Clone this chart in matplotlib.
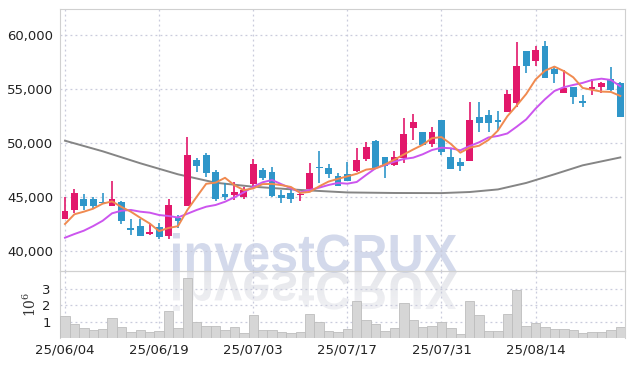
import numpy as np
import pandas as pd
import matplotlib
matplotlib.use('Agg')
import matplotlib.pyplot as plt
import matplotlib.transforms as mtransforms
from matplotlib.ticker import FuncFormatter
from matplotlib.textpath import TextPath
from matplotlib.patches import PathPatch
from matplotlib.font_manager import FontProperties

dates = ['25/06/04', '25/06/05', '25/06/09', '25/06/10', '25/06/11', '25/06/12', '25/06/13',
         '25/06/16', '25/06/17', '25/06/18', '25/06/19', '25/06/20', '25/06/23', '25/06/24',
         '25/06/25', '25/06/26', '25/06/27', '25/06/30', '25/07/01', '25/07/02', '25/07/03',
         '25/07/04', '25/07/07', '25/07/08', '25/07/09', '25/07/10', '25/07/11', '25/07/14',
         '25/07/15', '25/07/16', '25/07/17', '25/07/18', '25/07/21', '25/07/22', '25/07/23',
         '25/07/24', '25/07/25', '25/07/28', '25/07/29', '25/07/30', '25/07/31', '25/08/01',
         '25/08/04', '25/08/05', '25/08/06', '25/08/07', '25/08/08', '25/08/11', '25/08/12',
         '25/08/13', '25/08/14', '25/08/18', '25/08/19', '25/08/20', '25/08/21', '25/08/22',
         '25/08/25', '25/08/26', '25/08/27', '25/08/28']

opens = [42990, 43770, 44810, 44810, 44560, 44190, 44560, 42130, 42310, 41550,
         42190, 41390, 43050, 44190, 48430, 48890, 47340, 45250, 45210, 45000,
         46200, 47500, 47290, 45180, 45340, 45180, 45710, 47810, 47710, 46940,
         47100, 47410, 48520, 50180, 48700, 47960, 48580, 51360, 51020, 49880,
         52130, 48700, 48210, 48330, 52380, 52560, 52060, 52900, 53730, 58520,
         57620, 58980, 56820, 54660, 55160, 53890, 55000, 55210, 55900, 55580]
highs = [45030, 45710, 45250, 45030, 45400, 46480, 44600, 42930, 42930, 42560,
         42560, 44790, 43330, 50530, 48580, 49100, 47500, 46270, 46420, 45950,
         48520, 47710, 47810, 45650, 45650, 45430, 48180, 49260, 48030, 47190,
         48270, 49510, 50120, 50280, 48700, 49290, 52340, 52710, 51020, 51510,
         52130, 49510, 48580, 53770, 53800, 53060, 52960, 54910, 59380, 58520,
         58980, 59440, 57130, 56760, 55160, 54440, 55900, 55680, 57060, 55680]
lows = [42960, 43520, 43770, 43980, 44350, 44190, 42470, 41510, 41390, 41450,
        41110, 41080, 42130, 44190, 47290, 46820, 44630, 44720, 44720, 44810,
        45950, 46570, 45030, 44420, 44470, 44630, 45650, 46270, 46790, 46020,
        46450, 47290, 48330, 47620, 46790, 47870, 48120, 50280, 49810, 49660,
        48890, 47620, 47410, 48330, 51050, 51050, 51110, 52870, 53360, 56510,
        57130, 56050, 55530, 54660, 53610, 53310, 54440, 54660, 54840, 52430]
closes = [43730, 45400, 44170, 44190, 44420, 44790, 42800, 41980, 41390, 41760,
          41270, 44260, 42800, 48890, 47900, 47250, 44810, 45030, 45460, 45620,
          48060, 46790, 45120, 44880, 44790, 45310, 47250, 47680, 47100, 46050,
          46480, 48430, 49600, 47660, 47900, 48700, 50810, 51920, 49810, 50990,
          49190, 47620, 47900, 52130, 51880, 51880, 51970, 54510, 57130, 57160,
          58610, 56050, 56390, 55060, 54290, 53680, 55160, 55580, 54910, 52430]

# volume in millions of shares
volumes = [1.31, 0.86, 0.61, 0.49, 0.55, 1.23, 0.69, 0.39, 0.49, 0.39,
           0.45, 1.61, 0.61, 3.66, 0.96, 0.75, 0.75, 0.51, 0.69, 0.33,
           1.37, 0.51, 0.49, 0.39, 0.33, 0.39, 1.47, 0.96, 0.45, 0.34,
           0.55, 2.23, 1.10, 0.82, 0.45, 0.61, 2.15, 1.10, 0.69, 0.75,
           0.96, 0.61, 0.25, 2.23, 1.37, 0.45, 0.45, 1.43, 2.90, 0.75,
           0.90, 0.69, 0.55, 0.55, 0.51, 0.28, 0.39, 0.39, 0.51, 0.69]

# 5-day average for the first days (earlier closes are off the chart)
ma5_head = [42500, 43400, 43640, 43920]

ma20 = [41230, 41570, 41880, 42310, 42800, 43490, 43730, 43800, 43640, 43550,
        43330, 43240, 43100, 43450, 43800, 44100, 44260, 44560, 44970, 45430,
        45950, 46360, 46570, 46180, 45810, 45430, 45650, 45860, 46110, 46300,
        46230, 46390, 47040, 47660, 47960, 48270, 48520, 48640, 48950, 49350,
        49560, 49510, 49320, 49720, 50060, 50510, 50650, 50880, 51510, 52180,
        53180, 54050, 54810, 55160, 55370, 55560, 55830, 55950, 55830, 55250]

ma_long_idx = [0, 4, 8, 12, 16, 20, 25, 30, 35, 40, 43, 46, 49, 52, 55, 59]
ma_long = [50210, 49230, 48120, 47100, 46320, 45950, 45650, 45420, 45370, 45360,
           45460, 45700, 46300, 47100, 47930, 48660]

tick_idx = [0, 10, 20, 30, 40, 50]


def drawChart():
    tick_font = ['Liberation Sans Narrow', 'DejaVu Sans Condensed', 'DejaVu Sans']
    up_color = '#e2186b'
    down_color = '#2f96c9'
    grid_color = '#c9cbdc'
    spine_color = '#d0d0d0'

    fig = plt.figure(figsize=(6.34, 3.66), dpi=100)

    # watermark and its reflection, drawn in pixel coordinates behind the charts
    axw = fig.add_axes([0, 0, 1, 1], zorder=-1)
    axw.axis('off')
    fp = FontProperties(family='Liberation Sans', weight='bold')
    tp = TextPath((0, 0), 'investCRUX', size=50, prop=fp)
    ext = tp.get_extents()
    sx = (457 - 173) / ext.width
    sy = (272 - 233) / (ext.height + ext.y0)
    front = mtransforms.Affine2D().scale(sx, -sy).translate(173 - ext.x0 * sx, 272)
    back = mtransforms.Affine2D().scale(sx, sy).translate(173 - ext.x0 * sx, 272)
    wm_color = '#3a55a5'
    axw.add_patch(PathPatch(front.transform_path(tp), facecolor=wm_color, edgecolor='none',
                            alpha=0.22))
    refl = PathPatch(back.transform_path(tp), facecolor='none', edgecolor='none')
    axw.add_patch(refl)
    grad = np.zeros((40, 1, 4))
    grad[:, 0, :3] = matplotlib.colors.to_rgb('#50587a')
    grad[:, 0, 3] = np.linspace(0.15, 0.08, 40)
    im = axw.imshow(grad, extent=[170, 460, 314, 272], aspect='auto', interpolation='bilinear')
    im.set_clip_path(refl)
    axw.set_xlim(0, 634)
    axw.set_ylim(366, 0)

    ax = fig.add_axes([0.0951, 0.2596, 0.8907, 0.7158])
    axv = fig.add_axes([0.0951, 0.0765, 0.8907, 0.1831], sharex=ax)
    ax.set_facecolor('none')
    axv.set_facecolor('none')

    x = np.arange(len(dates))
    o = np.array(opens)
    c = np.array(closes)
    colors = [up_color if cc >= oo else down_color for oo, cc in zip(o, c)]

    ax.vlines(x, lows, highs, colors=colors, linewidth=1.2, zorder=3)
    bottoms = np.minimum(o, c)
    heights = np.maximum(np.abs(c - o), 120)
    ax.bar(x, heights, bottom=bottoms, width=0.72, color=colors, linewidth=0, zorder=4)

    ma5 = pd.Series(closes).rolling(5).mean().values
    ma5[:4] = ma5_head
    ax.plot(ma_long_idx, ma_long, color='#858585', lw=1.4, zorder=2)
    ax.plot(x, ma20, color='#cc55ee', lw=1.4, zorder=5)
    ax.plot(x, ma5, color='#f08a50', lw=1.4, zorder=6)

    ax.set_xlim(-0.5, len(dates) - 0.5)
    ax.set_ylim(38150, 62400)
    ax.set_yticks([40000, 45000, 50000, 55000, 60000])
    ax.yaxis.set_major_formatter(FuncFormatter(lambda v, p: '{:,.0f}'.format(v)))
    ax.set_xticks(tick_idx)
    ax.tick_params(axis='x', labelbottom=False, length=0)
    ax.tick_params(axis='y', length=0, pad=5, labelsize=9.5, labelcolor='#222222')
    for lab in ax.get_yticklabels():
        lab.set_family(tick_font)
    ax.grid(True, linestyle=(0, (1.5, 2.5)), color=grid_color, linewidth=0.9)
    ax.set_axisbelow(True)
    for s in ax.spines.values():
        s.set_color(spine_color)

    axv.bar(x, volumes, width=1.0, color='#d6d6d6', edgecolor='#bdbdbd', linewidth=0.6, zorder=3)
    axv.set_ylim(0, 4.07)
    axv.set_yticks([1, 2, 3])
    axv.set_xticks(tick_idx)
    axv.set_xticklabels([dates[i] for i in tick_idx])
    axv.tick_params(length=0, labelsize=9.5, labelcolor='#222222')
    axv.tick_params(axis='y', pad=7)
    axv.tick_params(axis='x', pad=4)
    for lab in axv.get_xticklabels() + axv.get_yticklabels():
        lab.set_family(tick_font)
    axv.grid(True, linestyle=(0, (1.5, 2.5)), color=grid_color, linewidth=0.9)
    axv.set_axisbelow(True)
    axv.set_ylabel(r'$\mathregular{10^6}$', fontsize=10, family='DejaVu Serif', color='#333333', labelpad=2)
    for s in axv.spines.values():
        s.set_color(spine_color)
    axv.spines['bottom'].set_visible(False)

    fig.savefig('out.png', dpi=100)


if __name__ == '__main__':
    drawChart()
